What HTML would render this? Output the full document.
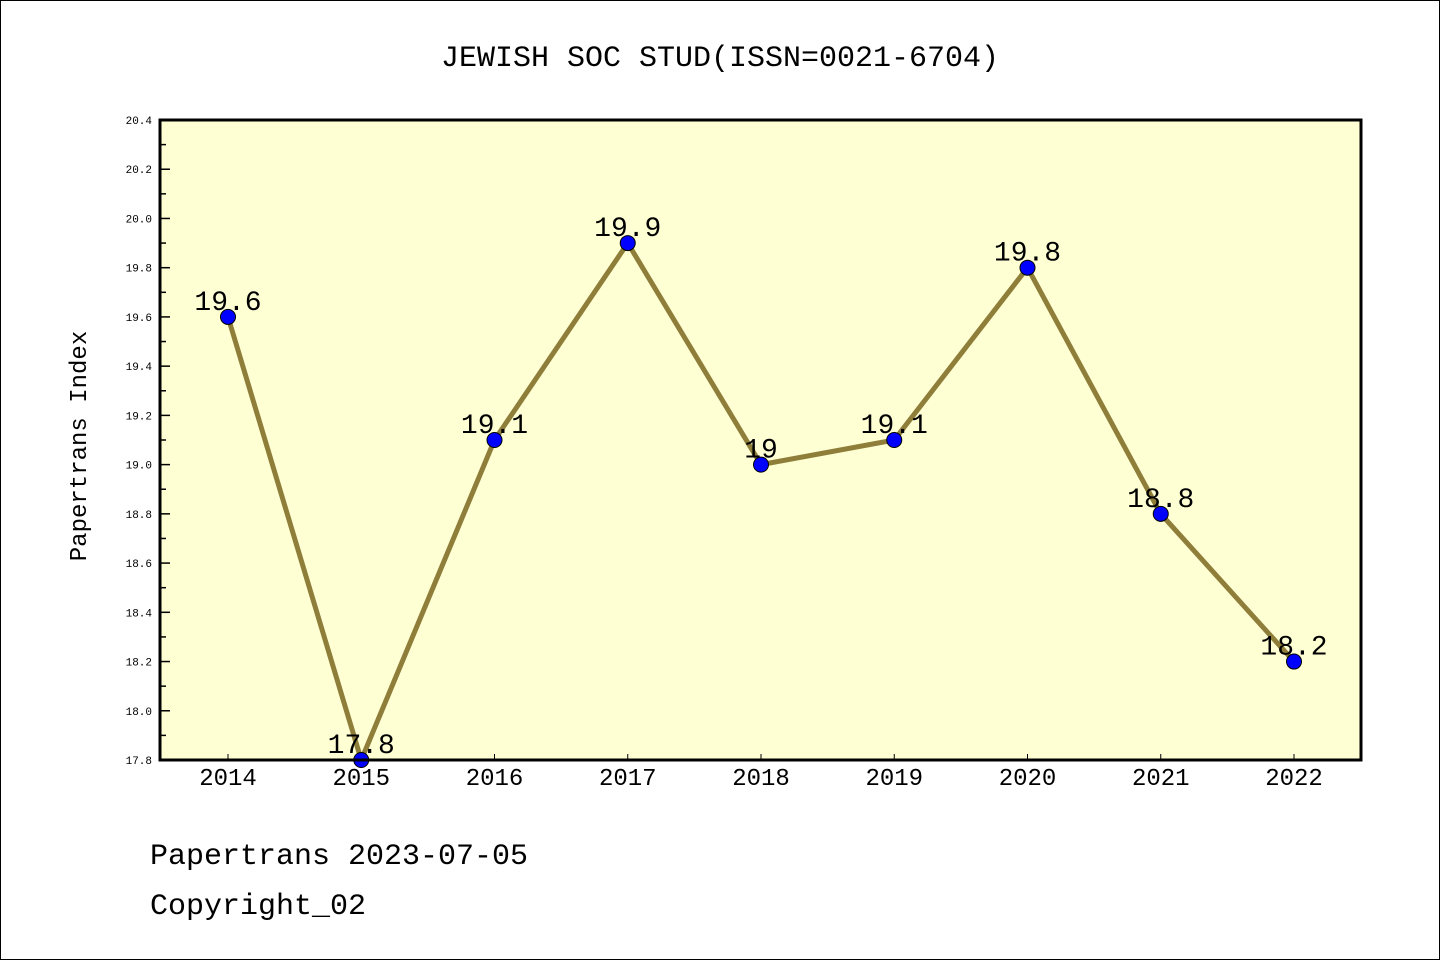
<!DOCTYPE html>
<html><head><meta charset="utf-8"><style>
body{margin:0;background:#fff}
svg text{font-family:"Liberation Mono","DejaVu Sans Mono",monospace}
</style></head><body>
<svg width="1440" height="960" xmlns="http://www.w3.org/2000/svg">
<rect x="0.5" y="0.5" width="1439" height="959" fill="#fff" stroke="#000"/>
<text x="720" y="66" font-size="30" text-anchor="middle">JEWISH SOC STUD(ISSN=0021-6704)</text>
<rect x="160" y="120" width="1201" height="640" fill="#ffffd4"/>
<g id="axes"></g>
<g id="marks"></g>
<rect x="160" y="120" width="1201" height="640" fill="none" stroke="#000" stroke-width="3"/>
<text x="86" y="446" font-size="24" text-anchor="middle" transform="rotate(-90 86 446)">Papertrans Index</text>
<text x="150" y="864" font-size="30">Papertrans 2023-07-05</text>
<text x="150" y="914" font-size="30">Copyright_02</text>
</svg>
<script>
const categories=["2014","2015","2016","2017","2018","2019","2020","2021","2022"];
const values=[19.6,17.8,19.1,19.9,19.0,19.1,19.8,18.8,18.2];
const valueLabels=["19.6","17.8","19.1","19.9","19","19.1","19.8","18.8","18.2"];
const yTicks=["17.8","18.0","18.2","18.4","18.6","18.8","19.0","19.2","19.4","19.6","19.8","20.0","20.2","20.4"];
const ns="http://www.w3.org/2000/svg";
const yMin=17.8,yMax=20.4;
function y(v){return 760-(v-yMin)/(yMax-yMin)*640;}
function x(i){return 228+i*133.25;}
function mk(t,a,p){const e=document.createElementNS(ns,t);for(const k in a)e.setAttribute(k,a[k]);p.appendChild(e);return e;}
const ax=document.getElementById('axes'),mg=document.getElementById('marks');
yTicks.forEach(t=>{const v=parseFloat(t);const yy=y(v);
 const l=mk('line',{x1:160,x2:170,y1:yy,y2:yy,stroke:'#000','stroke-width':1.5},ax);
 
 const tx=mk('text',{x:152,y:yy+4,'font-size':11,'text-anchor':'end','font-family':'DejaVu Sans, sans-serif'},ax);tx.textContent=t;
 
 if(v<yMax-0.01){const ym=y(v+0.1);const m=mk('line',{x1:160,x2:166,y1:ym,y2:ym,stroke:'#000','stroke-width':1.5},ax);
 }
});
categories.forEach((c,i)=>{const xx=x(i);
 const l=mk('line',{x1:xx,x2:xx,y1:760,y2:754,stroke:'#000','stroke-width':1},ax);
 
 const t=mk('text',{x:xx,y:785,'font-size':24,'text-anchor':'middle','font-family':'DejaVu Sans, sans-serif'},ax);t.textContent=c;
 
});
const pl=mk('polyline',{points:values.map((v,i)=>x(i)+','+y(v)).join(' '),fill:'none',stroke:'#8f7e3a','stroke-width':5,'stroke-linejoin':'round'},mg);

values.forEach((v,i)=>{
 const c=mk('circle',{cx:x(i),cy:y(v),r:7.5,fill:'#0000ff',stroke:'#000','stroke-width':1},mg);
 
 const t=mk('text',{x:x(i),y:y(v)-7,'font-size':28,'text-anchor':'middle'},mg);t.textContent=valueLabels[i];
 
});
</script>
</body></html>
